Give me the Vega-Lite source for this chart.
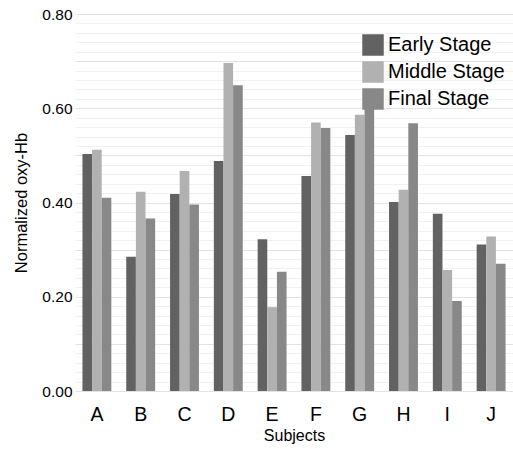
{
  "$schema": "https://vega.github.io/schema/vega-lite/v6.json",
  "width": 438,
  "height": 377,
  "autosize": "none",
  "padding": {"left": 75, "top": 14, "right": 0, "bottom": 58},
  "background": "white",
  "data": {
    "values": [
      {"subject": "A", "stage": "Early Stage", "value": 0.503},
      {"subject": "A", "stage": "Middle Stage", "value": 0.512},
      {"subject": "A", "stage": "Final Stage", "value": 0.410},
      {"subject": "B", "stage": "Early Stage", "value": 0.285},
      {"subject": "B", "stage": "Middle Stage", "value": 0.423},
      {"subject": "B", "stage": "Final Stage", "value": 0.366},
      {"subject": "C", "stage": "Early Stage", "value": 0.418},
      {"subject": "C", "stage": "Middle Stage", "value": 0.467},
      {"subject": "C", "stage": "Final Stage", "value": 0.396},
      {"subject": "D", "stage": "Early Stage", "value": 0.488},
      {"subject": "D", "stage": "Middle Stage", "value": 0.696},
      {"subject": "D", "stage": "Final Stage", "value": 0.649},
      {"subject": "E", "stage": "Early Stage", "value": 0.322},
      {"subject": "E", "stage": "Middle Stage", "value": 0.178},
      {"subject": "E", "stage": "Final Stage", "value": 0.253},
      {"subject": "F", "stage": "Early Stage", "value": 0.456},
      {"subject": "F", "stage": "Middle Stage", "value": 0.570},
      {"subject": "F", "stage": "Final Stage", "value": 0.558},
      {"subject": "G", "stage": "Early Stage", "value": 0.543},
      {"subject": "G", "stage": "Middle Stage", "value": 0.586},
      {"subject": "G", "stage": "Final Stage", "value": 0.620},
      {"subject": "H", "stage": "Early Stage", "value": 0.401},
      {"subject": "H", "stage": "Middle Stage", "value": 0.427},
      {"subject": "H", "stage": "Final Stage", "value": 0.568},
      {"subject": "I", "stage": "Early Stage", "value": 0.376},
      {"subject": "I", "stage": "Middle Stage", "value": 0.257},
      {"subject": "I", "stage": "Final Stage", "value": 0.191},
      {"subject": "J", "stage": "Early Stage", "value": 0.311},
      {"subject": "J", "stage": "Middle Stage", "value": 0.328},
      {"subject": "J", "stage": "Final Stage", "value": 0.270}
    ]
  },
  "mark": {"type": "bar"},
  "encoding": {
    "x": {
      "field": "subject",
      "type": "nominal",
      "scale": {"paddingInner": 0.34, "paddingOuter": 0.17},
      "axis": {
        "title": "Subjects",
        "titleFont": "Liberation Sans",
        "titleFontSize": 16,
        "titleFontWeight": "normal",
        "titleColor": "black",
        "titlePadding": 4,
        "labelFont": "Liberation Sans",
        "labelFontSize": 19.5,
        "labelColor": "black",
        "labelAngle": 0,
        "labelPadding": 14,
        "ticks": false,
        "domain": false
      }
    },
    "xOffset": {
      "field": "stage",
      "type": "nominal",
      "sort": ["Early Stage", "Middle Stage", "Final Stage"],
      "scale": {"paddingInner": 0, "paddingOuter": 0}
    },
    "y": {
      "field": "value",
      "type": "quantitative",
      "scale": {"domain": [0, 0.8], "nice": false},
      "axis": {
        "title": "Normalized oxy-Hb",
        "titleFont": "Liberation Sans",
        "titleFontSize": 16.5,
        "titleFontWeight": "normal",
        "titleColor": "black",
        "titlePadding": 12,
        "labelFont": "Liberation Sans",
        "labelFontSize": 15.5,
        "labelColor": "black",
        "labelPadding": 3,
        "values": [0, 0.02, 0.04, 0.06, 0.08, 0.1, 0.12, 0.14, 0.16, 0.18, 0.2, 0.22, 0.24, 0.26, 0.28, 0.3, 0.32, 0.34, 0.36, 0.38, 0.4, 0.42, 0.44, 0.46, 0.48, 0.5, 0.52, 0.54, 0.56, 0.58, 0.6, 0.62, 0.64, 0.66, 0.68, 0.7, 0.72, 0.74, 0.76, 0.78, 0.8],
        "labelExpr": "round(datum.value*100) % 20 == 0 ? format(datum.value, '.2f') : ''",
        "gridColor": {"condition": {"test": "round(datum.value*100) % 10 == 0", "value": "#e2e2e2"}, "value": "#f1f1f1"},
        "gridWidth": 1,
        "ticks": false,
        "domain": false
      }
    },
    "color": {
      "field": "stage",
      "type": "nominal",
      "sort": ["Early Stage", "Middle Stage", "Final Stage"],
      "scale": {"domain": ["Early Stage", "Middle Stage", "Final Stage"], "range": ["#626262", "#b1b1b1", "#888888"]},
      "legend": {
        "title": null,
        "orient": "none",
        "legendX": 287,
        "legendY": 20,
        "symbolType": "square",
        "symbolSize": 462,
        "symbolStrokeWidth": 0,
        "symbolOpacity": 1,
        "labelFont": "Liberation Sans",
        "labelFontSize": 20,
        "labelColor": "black",
        "labelOffset": 4,
        "rowPadding": 5,
        "labelLimit": 300
      }
    }
  },
  "config": {
    "view": {"stroke": null}
  }
}
